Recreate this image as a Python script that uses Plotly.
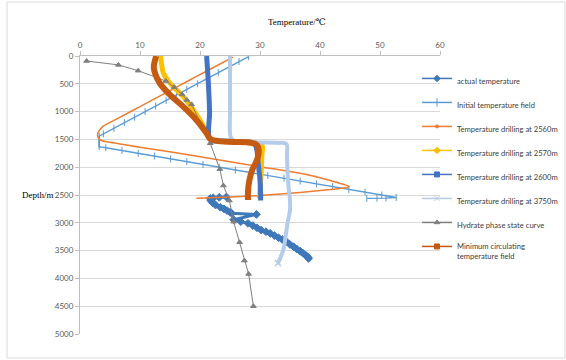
import plotly.graph_objects as go

# ---------------- data ----------------
actual_T = [24.4, 23.2, 22.2, 21.7, 21.8, 22.1, 22.6, 23.4, 24.0, 24.5, 25.0, 25.3, 29.4, 25.6,
            26.8, 28.0, 28.8, 29.5, 30.2, 31.0, 31.7, 32.4, 33.1, 33.7, 34.4, 35.0, 35.6, 36.1,
            36.7, 37.2, 37.7, 38.0, 38.1]
actual_D = [2535, 2542, 2550, 2562, 2600, 2640, 2680, 2720, 2750, 2780, 2810, 2830, 2850, 2945,
            2980, 3010, 3050, 3090, 3130, 3160, 3190, 3230, 3270, 3300, 3340, 3390, 3430, 3470,
            3510, 3550, 3590, 3620, 3640]

init_T = [28.1, 26.5, 24.8, 23.05, 21.3, 19.6, 17.8, 16.1, 14.35, 12.6, 10.85, 9.1, 7.4, 5.65, 3.9, 3.2,
          3.2, 3.2, 3.2, 3.2,
          4.3, 7.0, 9.7, 12.4, 15.1, 17.8, 20.5, 23.2, 25.9, 28.6, 31.3, 34.0, 36.7, 39.4, 42.1,
          44.8, 47.5, 50.3, 52.7, 51.0, 49.5, 47.8]
init_D = [10, 100, 200, 300, 400, 500, 600, 700, 800, 900, 1000, 1100, 1200, 1300, 1400, 1440,
          1500, 1550, 1600, 1630,
          1650, 1700, 1750, 1800, 1850, 1900, 1950, 2000, 2050, 2100, 2150, 2200, 2250, 2300, 2350,
          2400, 2450, 2500, 2545, 2555, 2558, 2562]

t2560_T = [25.5, 22.0, 18.0, 14.0, 10.0, 6.0, 3.8, 3.0, 3.0, 3.6, 5.0, 10.0, 18.3, 25.0, 30.0,
           36.7, 40.0, 43.0, 44.9, 44.0, 40.0, 35.0, 30.0, 25.0, 19.4]
t2560_D = [20, 220, 450, 680, 910, 1140, 1270, 1380, 1460, 1520, 1550, 1640, 1780, 1900, 1990,
           2110, 2190, 2280, 2348, 2375, 2420, 2470, 2510, 2535, 2558]

t2570_T = [13.4, 13.6, 13.9, 15.0, 17.2, 18.9, 20.3, 21.4, 22.2, 24.0, 28.0, 30.3, 30.3, 30.2, 30.0, 29.9]
t2570_D = [0, 150, 310, 490, 730, 970, 1210, 1450, 1510, 1540, 1555, 1600, 1800, 2100, 2400, 2560]

t2600_T = [21.1, 21.4, 21.6, 21.7, 24.0, 27.5, 29.0, 29.4, 29.7, 30.0, 30.1, 30.1]
t2600_D = [0, 500, 1000, 1500, 1530, 1545, 1570, 1650, 1930, 2230, 2450, 2600]

t3750_T = [25.0, 25.0, 25.0, 25.1, 25.6, 27.0, 30.0, 33.0, 34.4, 34.5, 34.6, 34.8, 35.0, 35.0,
           34.6, 34.3, 33.9, 33.0]
t3750_D = [0, 500, 1000, 1450, 1520, 1545, 1555, 1562, 1580, 1800, 2100, 2400, 2600, 2770,
           3000, 3220, 3480, 3725]

hyd_T = [1.1, 6.4, 9.7, 14.3, 15.7, 17.0, 17.8, 18.6, 21.7, 23.3, 23.9, 24.9, 25.6, 26.6, 27.4, 28.1, 28.9]
hyd_D = [90, 160, 264, 450, 560, 690, 790, 870, 1570, 2035, 2330, 2600, 2980, 3350, 3680, 3920, 4500]

mincirc_T = [12.7, 12.3, 12.5, 13.3, 15.0, 17.2, 19.4, 21.1, 21.7, 23.5, 25.5, 28.5, 29.5, 29.8,
             29.5, 28.7, 28.2, 28.0, 28.0]
mincirc_D = [0, 200, 310, 490, 700, 910, 1150, 1390, 1490, 1535, 1545, 1560, 1600, 1700,
             1870, 2050, 2250, 2450, 2590]

x_ticks = [0, 10, 20, 30, 40, 50, 60]
y_ticks = [0, 500, 1000, 1500, 2000, 2500, 3000, 3500, 4000, 4500, 5000]

names = ["actual temperature", "Initial temperature field", "Temperature drilling at 2560m",
         "Temperature drilling at 2570m", "Temperature drilling at 2600m",
         "Temperature drilling at 3750m", "Hydrate phase state curve",
         "Minimum circulating<br>temperature field"]

# ---------------- styles ----------------
C_ACT = "#3F78B8"
C_INIT = "#5B9BD5"
C_2560 = "#ED7D31"
C_2570 = "#FFC000"
C_2600 = "#4472C4"
C_3750 = "#B4CCEA"
C_HYD = "#7F7F7F"
C_MIN = "#C55A11"

fig = go.Figure()

def add(x, y, color, width, symbol=None, msize=0, shape="linear", mode="lines", mcolor=None):
    fig.add_trace(go.Scatter(
        x=x, y=y, mode=mode, showlegend=False, hoverinfo="skip",
        line=dict(color=color, width=width, shape=shape),
        marker=dict(symbol=symbol, size=msize, color=mcolor or color,
                    line=dict(color=mcolor or color, width=1)) if symbol else None))

add(actual_T, actual_D, C_ACT, 3, "diamond", 6, mode="lines+markers")
add(init_T, init_D, C_INIT, 1.3, "line-ns", 5, mode="lines+markers")
add(t2560_T, t2560_D, C_2560, 1.5, shape="spline")
add(t2570_T, t2570_D, C_2570, 5, shape="spline")
add(t2600_T, t2600_D, C_2600, 5, shape="spline")
add(t3750_T, t3750_D, C_3750, 4, shape="spline")
fig.add_trace(go.Scatter(x=[t3750_T[-1]], y=[t3750_D[-1]], mode="markers", showlegend=False,
                         hoverinfo="skip",
                         marker=dict(symbol="x-thin", size=6, line=dict(color=C_3750, width=1.5))))
add(hyd_T, hyd_D, C_HYD, 1, "triangle-up", 5, mode="lines+markers")
add(mincirc_T, mincirc_D, C_MIN, 6, shape="spline")

# legend-only entries (thin symbol style like the reference legend)
leg_styles = [
    (C_ACT, "diamond", 5),
    (C_INIT, "line-ns", 6),
    (C_2560, "circle", 3),
    (C_2570, "diamond", 5),
    (C_2600, "square", 5),
    (C_3750, "x-thin", 5),
    (C_HYD, "triangle-up", 5),
    (C_MIN, "square", 5),
]
for i, (nm, (col, sym, sz)) in enumerate(zip(names, leg_styles)):
    fig.add_trace(go.Scatter(
        x=[None], y=[None], name=nm, mode="lines+markers", legendgroup=str(i),
        line=dict(color=col, width=1.5),
        marker=dict(symbol=sym, size=sz, color=col, line=dict(color=col, width=1))))

fig.update_layout(
    width=566, height=360,
    margin=dict(l=80, r=126, t=56, b=26, autoexpand=False),
    paper_bgcolor="white", plot_bgcolor="white",
    font=dict(family="Lato, Liberation Sans, sans-serif", size=8, color="#595959"),
    xaxis=dict(side="top", range=[0, 60], tickvals=x_ticks, showgrid=False, zeroline=False,
               showline=True, linecolor="#BFBFBF", linewidth=1, ticks="outside", ticklen=4,
               tickcolor="#BFBFBF", tickfont=dict(size=8, color="#595959")),
    yaxis=dict(range=[5000, 0], tickvals=y_ticks, showgrid=True, gridcolor="#D9D9D9",
               gridwidth=1, zeroline=False, showline=True, linecolor="#BFBFBF", linewidth=1,
               ticks="outside", ticklen=4, tickcolor="#BFBFBF",
               tickfont=dict(size=8, color="#595959")),
    legend=dict(xref="container", yref="container", x=417 / 566, y=(360 - 67) / 360,
                xanchor="left", yanchor="top", bgcolor="rgba(0,0,0,0)", maxheight=280,
                valign="top",
                font=dict(family="Lato, Liberation Sans, sans-serif", size=7.6, color="#404040"),
                itemwidth=30, tracegroupgap=5, traceorder="grouped"),
    shapes=[dict(type="rect", xref="paper", yref="paper",
                 x0=(7 - 80) / 360, x1=(565 - 80) / 360,
                 y0=(334 - 358) / 278, y1=(334 - 2) / 278,
                 line=dict(color="#D9D9D9", width=1), fillcolor="rgba(0,0,0,0)", layer="below")],
    annotations=[
        dict(text="Temperature/℃", xref="paper", yref="paper", x=(297 - 80) / 360,
             y=(334 - 22) / 278, showarrow=False, xanchor="center", yanchor="middle",
             font=dict(family="Liberation Serif, DejaVu Serif, serif", size=9, color="#000000")),
        dict(text="Depth/m", xref="paper", yref="paper", x=(20 - 80) / 360,
             y=(334 - 195) / 278, showarrow=False, xanchor="left", yanchor="middle",
             font=dict(family="Liberation Serif, DejaVu Serif, serif", size=9, color="#000000")),
    ],
)

fig.write_html("out.html", config={"displayModeBar": False},
               post_script="document.body.style.margin='0';")
